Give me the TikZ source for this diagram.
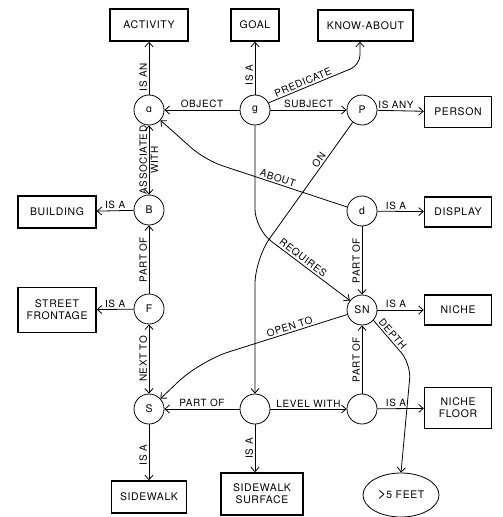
\documentclass[tikz,border=0pt]{standalone}
\usepackage{fontspec}
\setmainfont{TeX Gyre Heros}[LetterSpace=6]
\newfontfamily\dvfont{DejaVu Sans}
\usetikzlibrary{arrows.meta,shapes.geometric}
\begin{document}
\begin{tikzpicture}[x=1bp,y=-1bp,
  line width=0.8bp,
  box/.style={draw,line width=1.4bp,align=center,inner sep=1pt,font=\fontsize{10.5}{12}\selectfont},
  circ/.style={draw,circle,minimum size=30bp,inner sep=0pt,font=\fontsize{10.5}{12}\selectfont},
  lbl/.style={font=\fontsize{10}{11}\selectfont,inner sep=1.5bp},
  arr/.style={-{Straight Barb[length=4.5bp,width=8bp]}},
  darr/.style={{Straight Barb[length=4.5bp,width=8bp]}-{Straight Barb[length=4.5bp,width=8bp]}},
  lft/.style={lbl,rotate=90,anchor=south},
  rgt/.style={lbl,rotate=90,anchor=north},
  abv/.style={lbl,anchor=south},
]
\useasboundingbox (0,0) rectangle (503,517);
% circles
\node[circ] (a) at (149,110) {{\dvfont\fontsize{10}{12}\selectfont ɑ}};
\node[circ] (g) at (255,110) {g};
\node[circ] (P) at (362,110) {P};
\node[circ] (B) at (149,210) {B};
\node[circ] (d) at (362,211) {d};
\node[circ] (F) at (149,309) {F};
\node[circ] (SN) at (362,310) {SN};
\node[circ] (S) at (149,409) {S};
\node[circ] (m) at (255,409) {};
\node[circ] (n) at (362,409) {};
% boxes
\node[box,minimum width=78bp,minimum height=32bp] (ACT) at (149,25) {ACTIVITY};
\node[box,minimum width=48bp,minimum height=32bp] (GOAL) at (255,25) {GOAL};
\node[box,minimum width=95bp,minimum height=31bp] (KNOW) at (365.5,25.5) {KNOW-ABOUT};
\node[box,minimum width=67bp,minimum height=31bp] (PERSON) at (458,112) {PERSON};
\node[box,minimum width=78bp,minimum height=32bp] (BUILD) at (57,212) {BUILDING};
\node[box,minimum width=78bp,minimum height=45bp] (STREET) at (57,310) {STREET\\FRONTAGE};
\node[box,minimum width=67bp,minimum height=30bp] (DISPLAY) at (458,212) {DISPLAY};
\node[box,minimum width=67bp,minimum height=30bp] (NICHE) at (458,310) {NICHE};
\node[box,minimum width=67bp,minimum height=41bp] (NFLOOR) at (458,408) {NICHE\\FLOOR};
\node[box,minimum width=75bp,minimum height=32bp] (SIDEWALK) at (149,497) {SIDEWALK};
\node[box,minimum width=82bp,minimum height=42bp] (SSURF) at (262,494) {SIDEWALK\\SURFACE};
\node[draw,ellipse,minimum width=76bp,minimum height=44bp,inner sep=0pt,font=\fontsize{10.5}{12}\selectfont] (FEET) at (401,495) {{\fontsize{15}{15}\selectfont>}5 FEET};
% straight connectors
\draw[arr] (a) -- node[lft,pos=0.33]{IS AN} (ACT);
\draw[arr] (g) -- node[lft,pos=0.37]{IS A} (GOAL);
\draw[arr] (g) -- node[abv]{OBJECT} (a);
\draw[arr] (g) -- node[abv]{SUBJECT} (P);
\draw[arr] (P) -- node[abv,pos=0.4]{IS ANY} (PERSON);
\draw[darr] (B) -- node[lft]{ASSOCIATED} node[rgt]{WITH} (a);
\draw[arr] (B) -- node[abv]{IS A} (BUILD);
\draw[arr] (F) -- node[lft]{PART OF} (B);
\draw[arr] (F) -- node[abv]{IS A} (STREET);
\draw[darr] (S) -- node[lft]{NEXT TO} (F);
\draw[arr] (S) -- node[lft,pos=0.55]{IS A} (SIDEWALK);
\draw[arr] (m) -- node[abv]{PART OF} (S);
\draw[arr] (m) -- node[lft]{IS A} (m |- SSURF.north);
\draw[arr] (m) -- node[abv]{LEVEL WITH} (n);
\draw[arr] (n) -- node[lft]{PART OF} (SN);
\draw[arr] (n) -- node[abv,pos=0.4]{IS A} (NFLOOR);
\draw[arr] (SN) -- node[abv,pos=0.4]{IS A} (NICHE);
\draw[arr] (d) -- node[abv,pos=0.4]{IS A} (DISPLAY);
\draw[arr] (d) -- node[lft]{PART OF} (SN);
% bent connectors
\draw[arr,rounded corners=10bp] (g.28) -- node[lbl,sloped,above,pos=0.4]{PREDICATE} (360,65) -- ([xshift=-5.5bp]KNOW.south);
\draw[arr,rounded corners=18bp] (d.165) -- node[lbl,sloped,above,pos=0.5]{ABOUT} (205,160) -- (a.-42);
\draw[arr,rounded corners=20bp] (g) -- (255,229) -- node[lbl,sloped,above,pos=0.47]{REQUIRES} (SN.142);
\draw[arr,rounded corners=25bp] (P.-127) -- node[lbl,sloped,above,pos=0.3]{ON} (255,259) -- (m);
\draw[arr,rounded corners=30bp] (SN.197) -- node[lbl,sloped,above,pos=0.38]{OPEN TO} (200,361) -- (S.42);
\draw[arr,rounded corners=15bp] (SN.-42) -- node[lbl,sloped,above,pos=0.4]{DEPTH} (411,364) -- (FEET.north);
\end{tikzpicture}
\end{document}
